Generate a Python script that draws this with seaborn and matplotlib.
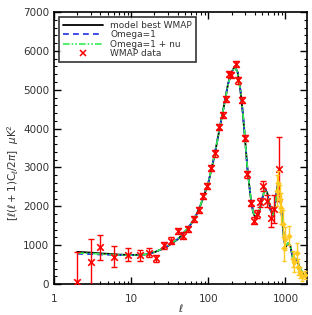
import numpy as np
import pandas as pd
import matplotlib
matplotlib.use("Agg")
import matplotlib.pyplot as plt
import seaborn as sns
from matplotlib.ticker import FixedLocator, MultipleLocator, NullFormatter, LogLocator
from matplotlib.lines import Line2D

# ---- data ----
model_l = [2, 3, 4, 5, 7, 10, 15, 20, 25, 30, 40, 50, 60, 70, 80, 100, 120, 140, 160, 180,
           200, 220, 240, 260, 280, 300, 320, 350, 380, 410, 450, 500, 540, 580, 640, 700,
           760, 800, 850, 900, 950, 1000, 1080, 1150, 1250, 1350, 1450, 1550, 1700, 1900]
model_best = [830, 810, 790, 780, 760, 750, 760, 820, 900, 980, 1150, 1350, 1550, 1780, 2050,
              2600, 3300, 4000, 4600, 5150, 5450, 5600, 5450, 5000, 4400, 3700, 3000, 2300,
              1850, 1700, 1800, 2200, 2450, 2350, 1900, 1750, 2300, 2600, 2300, 1700, 1200,
              950, 1050, 1000, 650, 650, 550, 400, 250, 180]
omega1 = [780, 770, 760, 755, 745, 745, 760, 820, 900, 985, 1160, 1360, 1560, 1790, 2060,
          2610, 3310, 4010, 4600, 5140, 5440, 5590, 5440, 5000, 4400, 3700, 3000, 2310,
          1860, 1710, 1810, 2210, 2450, 2350, 1900, 1760, 2310, 2600, 2300, 1700, 1200,
          960, 1050, 1000, 650, 650, 550, 400, 250, 180]
omega1_nu = [800, 790, 775, 765, 750, 748, 762, 825, 905, 990, 1160, 1360, 1560, 1790, 2060,
             2610, 3300, 4000, 4590, 5130, 5440, 5590, 5440, 5010, 4420, 3720, 3020, 2320,
             1870, 1720, 1820, 2200, 2430, 2340, 1910, 1770, 2280, 2560, 2290, 1720, 1230,
             980, 1060, 1010, 670, 660, 560, 410, 260, 190]

wmap_l = [2, 3, 4, 6, 9, 13, 17, 21, 27, 33, 40, 47, 55, 65, 75, 86, 97, 109, 123, 139, 153,
          170, 187, 198, 229, 246, 272, 300, 321, 355, 390, 425, 470, 515, 575, 650, 720, 830]
wmap_val = [50, 560, 950, 710, 760, 740, 810, 660, 1000, 1120, 1370, 1250, 1420, 1680, 1910,
            2260, 2520, 2980, 3360, 4050, 4350, 4770, 5400, 5370, 5660, 5240, 4730, 3750, 2820,
            2080, 1630, 1800, 2100, 2520, 2140, 1710, 1930, 2960]
wmap_err = [770, 610, 320, 260, 170, 150, 120, 100, 90, 80, 80, 80, 80, 80, 80, 80, 80, 80, 80,
            80, 80, 80, 80, 80, 80, 80, 80, 80, 80, 80, 90, 100, 110, 120, 150, 250, 350, 830]

ext_l = [780, 810, 850, 880, 920, 960, 1000, 1110, 1240, 1290, 1400, 1450, 1540, 1660, 1800]
ext_val = [2400, 2600, 2200, 1950, 1550, 940, 1170, 1250, 650, 560, 810, 440, 300, 200, 230]
ext_err = [400, 300, 350, 400, 350, 350, 300, 250, 200, 250, 250, 200, 150, 120, 100]

# ---- plot ----
sns.set_theme(style="ticks")
plt.rcParams['font.family'] = ['DejaVu Sans']

fig = plt.figure(figsize=(3.12, 3.15), dpi=100)
ax = fig.add_axes([0.173, 0.098, 0.811, 0.864])

df_m = pd.DataFrame({'l': model_l, 'best': model_best, 'o1': omega1, 'o1nu': omega1_nu})
sns.lineplot(data=df_m, x='l', y='best', ax=ax, color='black', lw=1.3, zorder=2, legend=False)
sns.lineplot(data=df_m, x='l', y='o1', ax=ax, color='#1f2fe0', lw=1.2, linestyle=(0, (3.5, 2.5)),
             zorder=3, legend=False)
sns.lineplot(data=df_m, x='l', y='o1nu', ax=ax, color='#33ee55', lw=1.2,
             linestyle=(0, (4, 1.2, 1, 1.2, 1, 1.2)), zorder=3, legend=False)

ax.errorbar(wmap_l, wmap_val, yerr=wmap_err, fmt='none', ecolor='red', elinewidth=1.0,
            capsize=2.5, capthick=1.0, zorder=4)
df_w = pd.DataFrame({'l': wmap_l, 'v': wmap_val})
sns.scatterplot(data=df_w, x='l', y='v', ax=ax, marker='x', color='red', s=22, linewidth=1.2,
                zorder=5, legend=False)

ax.errorbar(ext_l, ext_val, yerr=ext_err, fmt='none', ecolor='#ffc81e', elinewidth=1.0,
            capsize=1.5, capthick=1.0, zorder=6)
df_e = pd.DataFrame({'l': ext_l, 'v': ext_val})
sns.scatterplot(data=df_e, x='l', y='v', ax=ax, marker='D', color='#ffc81e', s=9,
                edgecolor='#ffc81e', zorder=7, legend=False)

ax.set_xscale('log')
ax.set_xlim(1, 1900)
ax.set_ylim(0, 7000)

txtc = '#333333'
ax.xaxis.set_major_locator(FixedLocator([1, 10, 100, 1000]))
ax.set_xticklabels(['1', '10', '100', '1000'])
ax.xaxis.set_minor_locator(LogLocator(base=10, subs=np.arange(2, 10)))
ax.xaxis.set_minor_formatter(NullFormatter())
ax.yaxis.set_major_locator(MultipleLocator(1000))
ax.yaxis.set_minor_locator(MultipleLocator(200))

ax.tick_params(which='both', direction='in', top=True, right=True, colors='black',
               labelcolor=txtc, labelsize=7.5)
ax.tick_params(which='major', length=5, width=1)
ax.tick_params(which='minor', length=2.5, width=0.8)
ax.tick_params(axis='x', pad=7)
for s in ax.spines.values():
    s.set_linewidth(1.2)
    s.set_color('black')

ax.set_xlabel(r'$\ell$', fontsize=7.5, color=txtc, labelpad=-1)
ax.set_ylabel(r'$[\ell(\ell+1)\mathrm{C}_\ell/2\pi]\ \ \mu\mathrm{K}^2$', fontsize=7.5, color=txtc)
ax.yaxis.set_label_coords(-0.13, 0.41)

handles = [
    Line2D([], [], color='black', lw=1.3),
    Line2D([], [], color='#1f2fe0', lw=1.2, linestyle=(0, (3.5, 2.5))),
    Line2D([], [], color='#33ee55', lw=1.2, linestyle=(0, (4, 1.2, 1, 1.2, 1, 1.2))),
    Line2D([], [], color='red', marker='x', lw=0, ms=4, mew=1.1),
]
labels = ['model best WMAP', 'Omega=1', 'Omega=1 + nu', 'WMAP data']
leg = ax.legend(handles, labels, loc='upper left', bbox_to_anchor=(0.02, 0.98), fontsize=6.5,
                frameon=True, fancybox=False, edgecolor='black', handlelength=4.5,
                labelspacing=0.05, borderpad=0.4, handletextpad=0.8, borderaxespad=0)
leg.get_frame().set_linewidth(1.2)
for t in leg.get_texts():
    t.set_color(txtc)

fig.savefig('out.png', dpi=100)
